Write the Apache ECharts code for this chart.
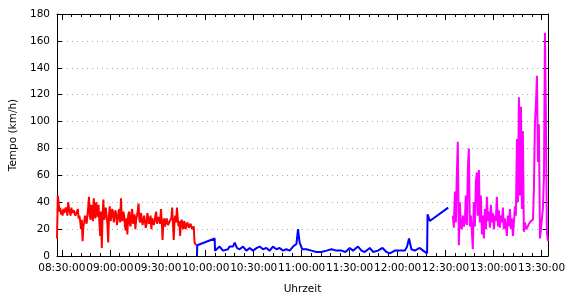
<!DOCTYPE html>
<html>
<head>
<meta charset="utf-8">
<script src="https://cdn.jsdelivr.net/npm/echarts@6/dist/echarts.min.js"></script>
<style>html,body{margin:0;padding:0;background:#fff}#c{width:570px;height:300px}</style>
</head>
<body>
<div id="c"></div>
<script>
// time in minutes after midnight
const xMin = 507, xMax = 814;
const majorTicks = [510, 540, 570, 600, 630, 660, 690, 720, 750, 780, 810];
const minorTicks = [516,522,528,534,546,552,558,564,576,582,588,594,606,612,618,624,636,642,648,654,666,672,678,684,696,702,708,714,726,732,738,744,756,762,768,774,786,792,798,804];
const yTicks = [0, 20, 40, 60, 80, 100, 120, 140, 160, 180];

const redTime = [507,507.5,508,508.5,509,509.5,510,510.5,511,511.5,512,512.5,513,513.5,514,514.5,515,515.5,516,516.5,517,517.5,518,518.5,519,519.5,520,520.5,521,521.5,522,522.5,523,523.5,524,524.5,525,525.5,526,526.5,527,527.5,528,528.5,529,529.5,530,530.5,531,531.5,532,532.5,533,533.5,534,534.5,535,535.5,536,536.5,537,537.5,538,538.5,539,539.5,540,540.5,541,541.5,542,542.5,543,543.5,544,544.5,545,545.5,546,546.5,547,547.5,548,548.5,549,549.5,550,550.5,551,551.5,552,552.5,553,553.5,554,554.5,555,555.5,556,556.5,557,557.5,558,558.5,559,559.5,560,560.5,561,561.5,562,562.5,563,563.5,564,564.5,565,565.5,566,566.5,567,567.5,568,568.5,569,569.5,570,570.5,571,571.5,572,572.5,573,573.5,574,574.5,575,575.5,576,576.5,577,577.5,578,578.5,579,579.5,580,580.5,581,581.5,582,582.5,583,583.5,584,584.5,585,585.5,586,586.5,587,587.5,588,588.5,589,589.5,590,590.5,591,591.5,592,592.5,593,593.5,594];
const redSpeed = [13,45,40,33,36,31,34,30,35,32,31,36,34,30,40,35,33,30,36,32,31,34,33,30,29,33,35,28,30,26,20,27,11,22,25,30,28,24,30,36,44,30,27,38,32,26,43,31,28,40,35,29,38,25,15,33,6,30,42,27,30,36,35,24,10,30,37,26,29,35,33,25,24,34,31,23,27,33,35,25,43,28,26,33,30,22,19,28,16,30,33,24,22,32,35,24,28,31,20,27,30,34,39,27,25,32,31,23,22,30,29,21,24,32,31,24,27,30,20,28,29,23,26,30,33,24,25,29,30,24,35,26,12,25,28,22,24,28,27,23,22,26,25,28,36,24,12,27,30,25,36,28,22,26,15,25,27,22,20,26,24,20,21,25,25,21,20,24,23,20,19,22,10,9,8];

const blueTime = [594.5,594.7,605.6,605.8,608.7,610.8,613.9,614.9,617.0,618.1,619.5,621.2,623.3,625.4,627.5,629.5,632.0,633.7,635.8,637.9,640.0,642.0,644.2,646.2,648.3,650.4,652.5,654.6,656.7,657.7,658.7,660.4,662.9,666.1,669.2,672.3,675.5,678.6,681.7,684.8,687.4,690.0,692.1,695.2,697.4,699.4,702.6,704.6,707.7,710.5,713.0,715.1,718.2,721.3,724.5,725.9,727.1,728.6,730.7,733.8,735.9,738.4,738.7,740.1,751.6];
const blueSpeed = [0,8,13,4,7,4,5,7,7,10,6,5,7,4,6,4,6,7,5,6,4,7,5,6,4,5,4,7,9,20,10,5,5,4,3,3,4,5,4,4,3,6,4,7,4,3,6,3,4,6,3,2,4,4,4,7,13,5,4,6,4,2,31,26,36];

const magentaTime = [754.5,755.1,755.8,756.4,757.0,757.6,758.3,758.9,759.5,760.1,760.8,761.4,762.0,762.6,763.3,763.9,764.5,765.1,765.8,766.4,767.0,767.6,768.3,768.9,769.5,770.1,770.8,771.4,772.0,772.7,773.3,773.9,774.5,775.2,775.8,776.4,777.0,777.7,778.3,778.9,779.5,780.2,780.8,781.4,782.0,782.7,783.3,783.9,784.5,785.2,785.8,786.4,787.0,787.7,788.3,788.9,789.6,790.2,790.8,791.4,792.1,792.7,793.3,793.9,794.6,795.2,795.8,796.4,797.1,797.7,798.3,798.9,799.6,800.2,800.8,801.4,802.1,802.7,803.3,803.9,804.6,805.2,805.8,806.5,807.1,807.7,808.3,809.0,809.6,810.2,810.8,811.5,812.1,812.7,813.3,814.0];
const magentaSpeed = [30,21,48,25,60,85,8,40,22,20,30,22,25,45,23,65,80,22,30,18,5,40,22,55,62,30,64,25,45,16,30,13,35,20,44,26,33,21,38,25,32,20,30,26,44,22,34,21,30,25,36,20,28,22,15,30,22,35,20,28,15,25,37,30,87,40,118,45,111,35,93,18,25,20,19,22,24,25,26,27,27,50,98,114,134,70,98,13,20,28,35,60,166,103,18,11];

const xAxisName = 'Uhrzeit';
const yAxisName = 'Tempo (km/h)';

function zip(a, b) { return a.map((t, i) => [t, b[i]]); }
function fmt(v) {
  const h = Math.floor(v / 60), m = Math.round(v - h * 60);
  return String(h).padStart(2, '0') + ':' + String(m).padStart(2, '0') + ':00';
}

const FONT = 'DejaVu Sans';
const black = { color: '#000', width: 1 };

const chart = echarts.init(document.getElementById('c'), null, { renderer: 'canvas' });
chart.setOption({
  animation: false,
  backgroundColor: '#fff',
  grid: { left: 57, right: 22, top: 14, bottom: 43, containLabel: false },
  xAxis: [
    { type: 'value', position: 'bottom', min: xMin, max: xMax,
      axisLine: { show: true, lineStyle: black },
      axisTick: { show: true, inside: true, length: 6, customValues: majorTicks, lineStyle: black },
      axisLabel: { show: true, customValues: majorTicks, formatter: fmt, fontFamily: FONT, fontSize: 10.5, color: '#000', margin: 7 },
      splitLine: { show: false },
      name: xAxisName, nameLocation: 'middle', nameGap: 28,
      nameTextStyle: { fontFamily: FONT, fontSize: 10.5, color: '#000' } },
    { type: 'value', position: 'bottom', min: xMin, max: xMax,
      axisLine: { show: false },
      axisTick: { show: true, inside: true, length: 3, customValues: minorTicks, lineStyle: black },
      axisLabel: { show: false }, splitLine: { show: false } },
    { type: 'value', position: 'top', min: xMin, max: xMax,
      axisLine: { show: true, lineStyle: black },
      axisTick: { show: true, inside: true, length: 6, customValues: majorTicks, lineStyle: black },
      axisLabel: { show: false }, splitLine: { show: false } },
    { type: 'value', position: 'top', min: xMin, max: xMax,
      axisLine: { show: false },
      axisTick: { show: true, inside: true, length: 3, customValues: minorTicks, lineStyle: black },
      axisLabel: { show: false }, splitLine: { show: false } }
  ],
  yAxis: [
    { type: 'value', position: 'left', min: 0, max: 180, interval: 20,
      axisLine: { show: true, lineStyle: black },
      axisTick: { show: true, inside: true, length: 5, lineStyle: black },
      axisLabel: { fontFamily: FONT, fontSize: 10.5, color: '#000', margin: 7 },
      splitLine: { show: true, lineStyle: { type: [1, 4], color: '#a8a8a8', width: 1 } },
      name: yAxisName, nameLocation: 'middle', nameGap: 37, nameRotate: 90,
      nameTextStyle: { fontFamily: FONT, fontSize: 10.5, color: '#000' } },
    { type: 'value', position: 'right', min: 0, max: 180, interval: 20,
      axisLine: { show: true, lineStyle: black },
      axisTick: { show: true, inside: true, length: 5, lineStyle: black },
      axisLabel: { show: false }, splitLine: { show: false } }
  ],
  series: [
    { type: 'line', xAxisIndex: 0, yAxisIndex: 0, data: zip(redTime, redSpeed), showSymbol: false, lineStyle: { color: '#ff0000', width: 2 }, itemStyle: { color: '#ff0000' } },
    { type: 'line', xAxisIndex: 0, yAxisIndex: 0, data: zip(blueTime, blueSpeed), showSymbol: false, lineStyle: { color: '#0000ff', width: 2 }, itemStyle: { color: '#0000ff' } },
    { type: 'line', xAxisIndex: 0, yAxisIndex: 0, data: zip(magentaTime, magentaSpeed), showSymbol: false, lineStyle: { color: '#ff00ff', width: 2 }, itemStyle: { color: '#ff00ff' } }
  ]
});
</script>
</body>
</html>
